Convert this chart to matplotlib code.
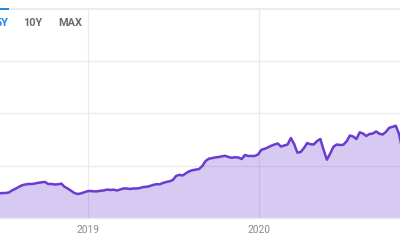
import matplotlib
matplotlib.use("Agg")
import matplotlib.pyplot as plt
import matplotlib.dates as mdates
from matplotlib.patches import Rectangle
import pandas as pd

# Weekly series (values in chart units, gridlines every 10)
start_date = "2018-06-25"
values = [
    4.73, 4.77, 4.78, 4.88, 5.28, 5.59, 5.93, 6.26, 6.41, 6.51,
    6.51, 6.60, 6.74, 6.83, 6.91, 6.51, 6.51, 6.41, 6.45, 6.58,
    5.97, 5.63, 5.21, 4.78, 4.59, 4.71, 4.92, 5.13, 5.17, 5.09,
    5.11, 5.21, 5.28, 5.45, 5.36, 5.42, 5.26, 5.47, 5.65, 5.65,
    5.55, 5.65, 5.65, 5.74, 5.93, 5.97, 6.12, 6.32, 6.47, 6.45,
    6.70, 6.89, 7.02, 7.27, 8.04, 8.27, 8.13, 8.56, 8.94, 9.15,
    9.26, 9.36, 9.95, 10.91, 11.35, 11.46, 11.60, 11.67, 11.81, 11.90,
    11.67, 11.52, 11.64, 11.58, 11.29, 12.06, 11.87, 11.87, 11.87, 12.15,
    13.05, 13.24, 13.51, 13.82, 14.07, 14.26, 13.68, 13.88, 14.07, 15.31,
    14.16, 12.50, 12.63, 13.40, 14.35, 14.12, 14.07, 14.74, 15.12, 13.01,
    11.16, 12.34, 13.65, 14.07, 13.97, 14.01, 14.68, 15.79, 15.60, 15.12,
    16.40, 16.17, 15.69, 16.08, 16.17, 16.56, 16.13, 15.98, 16.50, 17.26,
    17.45, 17.66, 16.08, 13.00,
]
dates = pd.date_range(start_date, periods=len(values), freq="7D")

tick_dates = ["2019-01-01", "2020-01-01"]
tick_labels = ["2019", "2020"]
range_buttons = ["5Y", "10Y", "MAX"]
y_grid = [10, 20, 30]
y_limits = (0, 40)

line_color = "#6a3cd0"
grid_color = "#ebebeb"

fig = plt.figure(figsize=(4, 2.4), dpi=100)
ax = fig.add_axes([0, 22 / 240, 1, 209 / 240])

ref = mdates.date2num(pd.Timestamp("2019-01-01"))
ax.set_xlim(ref - 187.8, ref + 666)
ax.set_ylim(*y_limits)

for g in y_grid:
    ax.axhline(g, color=grid_color, lw=0.9, zorder=1)
for d in tick_dates:
    ax.axvline(pd.Timestamp(d), color=grid_color, lw=0.9, zorder=1)

ax.fill_between(dates, values, 0, color=line_color, alpha=0.27, lw=0, zorder=2)
ax.plot(dates, values, color=line_color, lw=1.8, zorder=3,
        solid_joinstyle="round", solid_capstyle="round")

ax.set_xticks([pd.Timestamp(d) for d in tick_dates])
ax.set_xticklabels(tick_labels, fontfamily="Roboto", fontsize=7.3, color="#8a8a8a")
ax.tick_params(axis="x", length=0, pad=5)
ax.set_yticks([])
for s in ["left", "right"]:
    ax.spines[s].set_visible(False)
ax.spines["top"].set_color(grid_color)
ax.spines["top"].set_linewidth(1.5)
ax.spines["bottom"].set_color(grid_color)
ax.spines["bottom"].set_linewidth(1.0)

# range selector buttons
W, H = 400, 240
btn_x = [8.5, 32.5, 70]
btn_ha = ["right", "center", "center"]
btn_colors = ["#1e88e5", "#6b6b6b", "#6b6b6b"]
for label, x, ha, c in zip(range_buttons, btn_x, btn_ha, btn_colors):
    fig.text(x / W, 1 - 22.5 / H, label, ha=ha, va="center", fontfamily="Roboto",
             fontweight="bold", fontsize=7.8, color=c)
fig.patches.append(Rectangle((0, 1 - 10.3 / H), 8.5 / W, 2.2 / H, transform=fig.transFigure,
                             color="#1e88e5", lw=0))

fig.savefig("out.png", dpi=100)
